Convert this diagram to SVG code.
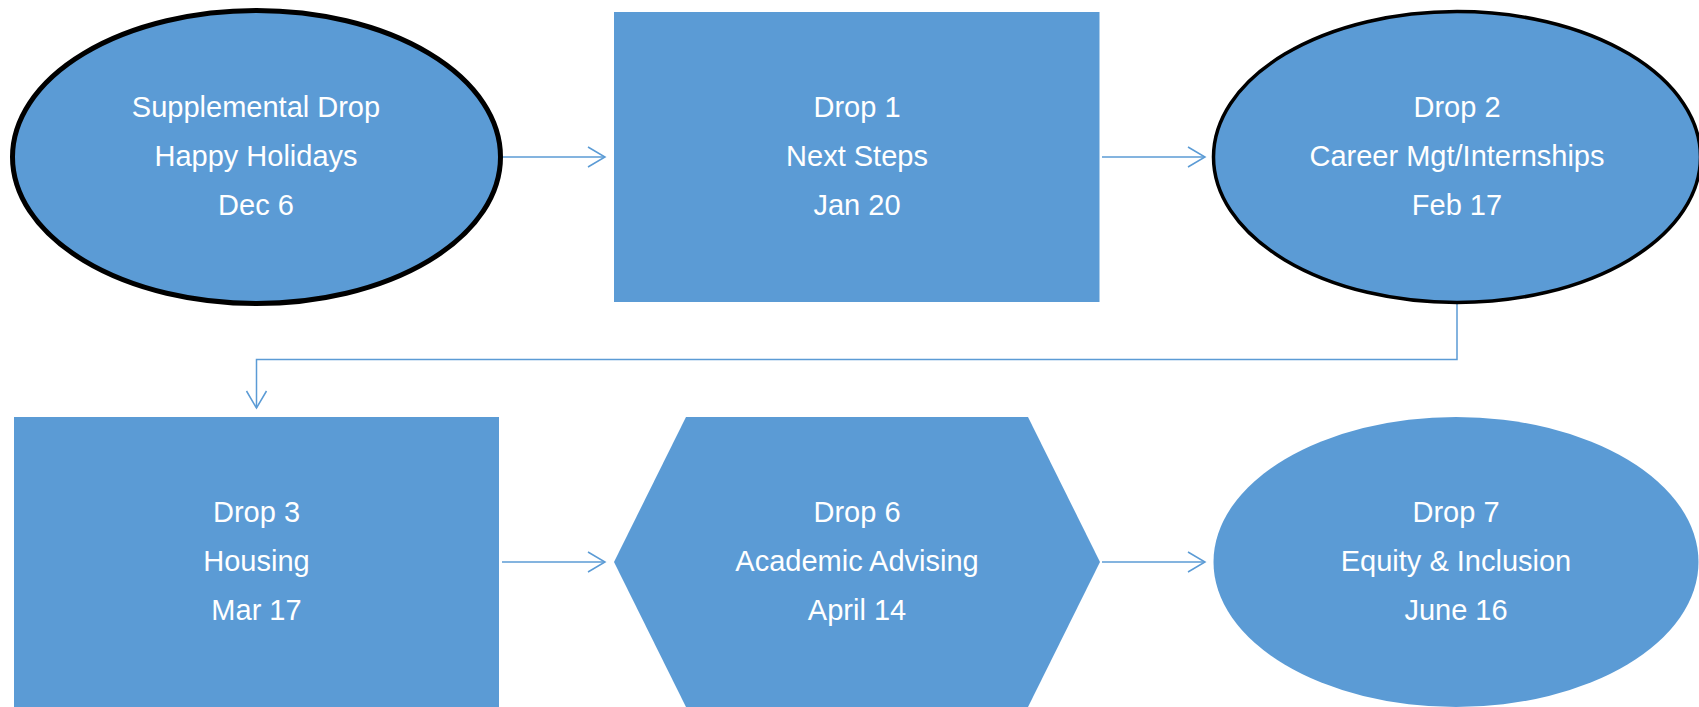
<svg xmlns="http://www.w3.org/2000/svg" width="1699" height="707" viewBox="0 0 1699 707">
<style>
.shape{fill:#5B9BD5}
.edge{fill:none;stroke:#5B9BD5;stroke-width:1.5}
.lbl{font-family:"Liberation Sans",Arial,sans-serif;font-size:29px;fill:#FFFFFF;text-anchor:middle}
</style>
<defs>
<marker id="arr" viewBox="0 0 20 24" refX="18" refY="12" markerWidth="20" markerHeight="24" markerUnits="userSpaceOnUse" orient="auto">
<path d="M1,2 L18,12 L1,22" fill="none" stroke="#5B9BD5" stroke-width="1.5"/>
</marker>
</defs>
<rect width="1699" height="707" fill="#FFFFFF"/>
<g id="connectors">
<path class="edge" d="M503,157 L605,157" marker-end="url(#arr)"/>
<path class="edge" d="M1102,157 L1205,157" marker-end="url(#arr)"/>
<path class="edge" d="M1457,304 L1457,359.5 L256.5,359.5 L256.5,408" marker-end="url(#arr)"/>
<path class="edge" d="M502,562 L605,562" marker-end="url(#arr)"/>
<path class="edge" d="M1102,562 L1205,562" marker-end="url(#arr)"/>
</g>
<g id="node-supplemental">
<ellipse class="shape" cx="256.5" cy="157" rx="244" ry="146.5" stroke="#000000" stroke-width="5"/>
<text class="lbl" x="256" y="117">Supplemental Drop</text>
<text class="lbl" x="256" y="166">Happy Holidays</text>
<text class="lbl" x="256" y="215">Dec 6</text>
</g>
<g id="node-drop1">
<rect class="shape" x="614" y="12" width="485.5" height="290"/>
<text class="lbl" x="857" y="117">Drop 1</text>
<text class="lbl" x="857" y="166">Next Steps</text>
<text class="lbl" x="857" y="215">Jan 20</text>
</g>
<g id="node-drop2">
<ellipse class="shape" cx="1457" cy="157" rx="243.5" ry="145.5" stroke="#000000" stroke-width="3.5"/>
<text class="lbl" x="1457" y="117">Drop 2</text>
<text class="lbl" x="1457" y="166">Career Mgt/Internships</text>
<text class="lbl" x="1457" y="215">Feb 17</text>
</g>
<g id="node-drop3">
<rect class="shape" x="14" y="417" width="485" height="290"/>
<text class="lbl" x="256.5" y="522">Drop 3</text>
<text class="lbl" x="256.5" y="571">Housing</text>
<text class="lbl" x="256.5" y="620">Mar 17</text>
</g>
<g id="node-drop6">
<polygon class="shape" points="686,417 1028,417 1100,562 1028,707 686,707 614,562"/>
<text class="lbl" x="857" y="522">Drop 6</text>
<text class="lbl" x="857" y="571">Academic Advising</text>
<text class="lbl" x="857" y="620">April 14</text>
</g>
<g id="node-drop7">
<ellipse class="shape" cx="1456" cy="562" rx="242.5" ry="145"/>
<text class="lbl" x="1456" y="522">Drop 7</text>
<text class="lbl" x="1456" y="571">Equity &amp; Inclusion</text>
<text class="lbl" x="1456" y="620">June 16</text>
</g>
</svg>
